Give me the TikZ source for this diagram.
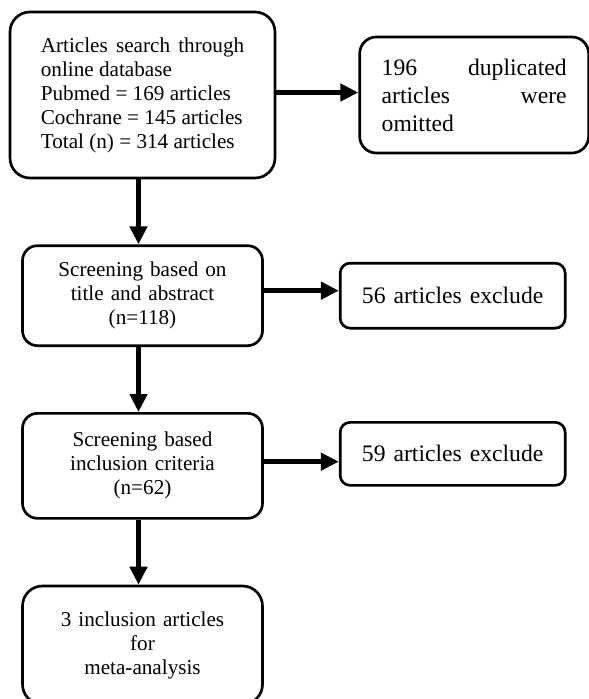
\documentclass[tikz,border=0pt]{standalone}
\usepackage{fontspec}
\setmainfont{Liberation Serif}
\usetikzlibrary{positioning,arrows.meta}
\newcommand{\bodyfont}{\fontsize{12.7pt}{14.4pt}\selectfont}
\newcommand{\largefont}{\fontsize{14.2pt}{16.8pt}\selectfont}
\tikzset{
    flow/.style={draw, line width=1.6pt, rounded corners=9pt, inner xsep=6pt, inner ysep=0pt, font=\bodyfont},
    flowarrow/.style={line width=3pt, -{Triangle[length=10.8pt,width=10.2pt]}},
}

\begin{document}
\begin{tikzpicture}[excluded/.style={flow, text width=123pt, align=center, font=\largefont, rounded corners=6pt}]
  \useasboundingbox (0,0) rectangle (352.8pt,-419.4pt);
  \node [flow, text width=122pt, inner xsep=18.5pt, minimum height=99.6pt, align=justify, rounded corners=12pt] (search) at (85.5pt,-57pt)
    {Articles search through\linebreak
     online database\newline
     Pubmed = 169 articles\newline
     Cochrane = 145 articles\newline
     Total (n) = 314 articles};
  \node [flow, text width=111pt, inner xsep=13.2pt, minimum height=69.6pt, align=justify, font=\largefont, rounded corners=10pt, right=49.2pt of search] (duplicated)
    {196 duplicated\linebreak
     articles were\linebreak
     omitted};

  \node [flow, text width=132pt, minimum height=60pt, align=center, below=39pt of search] (screentitle)
    {Screening based on\\ title and abstract\\ (n=118)};
  \node [excluded, minimum height=39pt, right=45pt of screentitle] (excludeone) {56 articles exclude};

  \node [flow, text width=132pt, minimum height=63pt, align=center, below=39pt of screentitle] (screencriteria)
    {Screening based\\ inclusion criteria\\ (n=62)};
  \node [excluded, minimum height=37.8pt, right=45pt of screencriteria, yshift=7.2pt] (excludetwo) {59 articles exclude};

  \node [flow, text width=132pt, minimum height=71pt, align=center, rounded corners=12pt, below=39pt of screencriteria] (included)
    {3 inclusion articles\\ for\\ meta-analysis};

  % ARROWS
  \draw[flowarrow] ([yshift=1.5pt]search.east) -- ([yshift=1.5pt]search.east -| duplicated.west);
  \draw[flowarrow] ([xshift=-2.4pt]search.south) -- ([xshift=-2.4pt]search.south |- screentitle.north);
  \draw[flowarrow] ([yshift=3pt]screentitle.east) -- ([yshift=3pt]screentitle.east -| excludeone.west);
  \draw[flowarrow] ([xshift=-2.4pt]screentitle.south) -- ([xshift=-2.4pt]screencriteria.north);
  \draw[flowarrow] ([yshift=2.5pt]screencriteria.east) -- ([yshift=2.5pt]screencriteria.east -| excludetwo.west);
  \draw[flowarrow] ([xshift=-2.4pt]screencriteria.south) -- ([xshift=-2.4pt]included.north);
\end{tikzpicture}
\end{document}
